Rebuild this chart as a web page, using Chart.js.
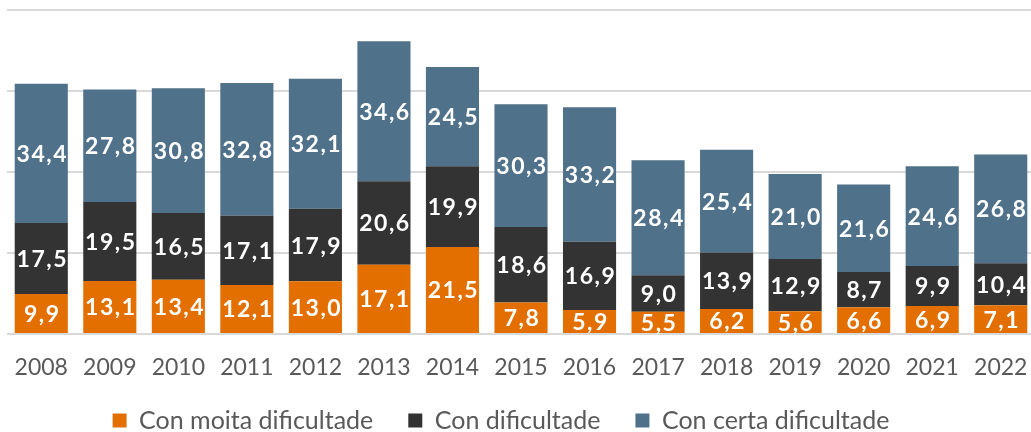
<!DOCTYPE html>
<html>
<head>
<meta charset="utf-8">
<script src="https://cdn.jsdelivr.net/npm/chart.js@4/dist/chart.umd.min.js"></script>
<style>
  html, body { margin: 0; padding: 0; background: #fff; overflow: hidden; }
  #wrap { width: 1035px; height: 432px; position: relative; }
</style>
</head>
<body>
<div id="wrap"><canvas id="c"></canvas></div>
<script>
const years = ['2008','2009','2010','2011','2012','2013','2014','2015','2016','2017','2018','2019','2020','2021','2022'];
const moitaDificultade = [9.9,13.1,13.4,12.1,13.0,17.1,21.5,7.8,5.9,5.5,6.2,5.6,6.6,6.9,7.1];
const conDificultade = [17.5,19.5,16.5,17.1,17.9,20.6,19.9,18.6,16.9,9.0,13.9,12.9,8.7,9.9,10.4];
const certaDificultade = [34.4,27.8,30.8,32.8,32.1,34.6,24.5,30.3,33.2,28.4,25.4,21.0,21.6,24.6,26.8];
const seriesNames = ['Con moita dificultade','Con dificultade','Con certa dificultade'];

const FONT = 'Lato, "Open Sans", sans-serif';
const LEGEND_SHIFT_Y = 9;
const LEGEND_SHIFT_X = 20;

const labelPlugin = {
  id: 'segLabels',
  beforeInit(chart) {
    const lg = chart.legend;
    if (lg && !lg._patched) {
      const origFit = lg.fit;
      lg.fit = function () { origFit.call(this); this.height = 50; };
      const origDraw = lg.draw;
      lg.draw = function () {
        const t = this.top, l = this.left, r = this.right;
        this.top = t - LEGEND_SHIFT_Y;
        this.left = l - LEGEND_SHIFT_X;
        this.right = r - LEGEND_SHIFT_X;
        origDraw.call(this);
        this.top = t; this.left = l; this.right = r;
      };
      lg._patched = true;
    }
  },
  afterDatasetsDraw(chart) {
    const ctx = chart.ctx;
    ctx.save();
    ctx.fillStyle = '#ffffff';
    ctx.font = 'bold 23px ' + FONT;
    try { ctx.letterSpacing = '1.5px'; } catch (e) {}
    ctx.textAlign = 'center';
    ctx.textBaseline = 'middle';
    chart.data.datasets.forEach((ds, i) => {
      const meta = chart.getDatasetMeta(i);
      meta.data.forEach((el, j) => {
        const v = ds.data[j];
        const cy = (el.y + el.base) / 2;
        ctx.fillText(v.toFixed(1).replace('.', ','), el.x + 1, cy + 1);
      });
    });
    ctx.restore();
  }
};

const common = { barPercentage: 0.775, categoryPercentage: 1.0, borderWidth: 0 };

new Chart(document.getElementById('c'), {
  type: 'bar',
  data: {
    labels: years,
    datasets: [
      Object.assign({ label: seriesNames[0], data: moitaDificultade, backgroundColor: '#E36F00' }, common),
      Object.assign({ label: seriesNames[1], data: conDificultade, backgroundColor: '#333333' }, common),
      Object.assign({ label: seriesNames[2], data: certaDificultade, backgroundColor: '#4F718A' }, common)
    ]
  },
  options: {
    responsive: true,
    maintainAspectRatio: false,
    animation: false,
    layout: { padding: { top: 10, left: 7, right: 0, bottom: 0 } },
    plugins: {
      tooltip: { enabled: false },
      legend: {
        position: 'bottom',
        labels: {
          color: '#595959',
          font: { family: FONT, size: 25 },
          boxWidth: 14,
          boxHeight: 14,
          padding: 35
        }
      }
    },
    scales: {
      x: {
        stacked: true,
        grid: { display: false, drawTicks: false },
        border: { display: false },
        ticks: { color: '#595959', font: { family: FONT, size: 23 }, padding: 20 },
        afterFit(scale) { scale.height = 48; scale.paddingLeft = 0; scale.paddingRight = 0; }
      },
      y: {
        stacked: true,
        min: 0,
        max: 80,
        ticks: { display: false, stepSize: 20 },
        border: { display: false },
        grid: { color: '#d9d9d9', lineWidth: 2, drawTicks: false }
      }
    }
  },
  plugins: [labelPlugin]
});
</script>
</body>
</html>
